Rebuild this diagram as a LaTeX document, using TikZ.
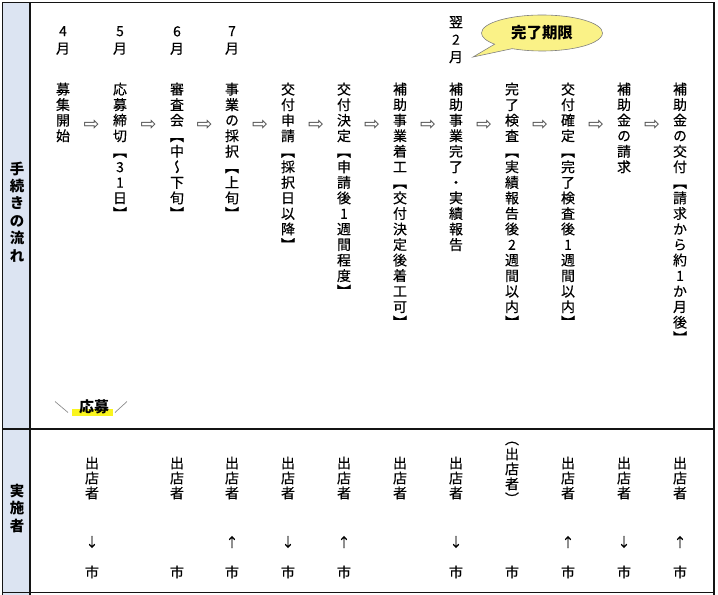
\documentclass[tikz,border=0pt]{standalone}
\usepackage{fontspec}
\usepackage{graphicx}
\setmainfont{Noto Sans CJK JP}
\newfontfamily\jp[FakeBold=0.4]{Noto Sans CJK JP}
\newfontfamily\vjp[RawFeature=+vert,FakeBold=0.4]{Noto Sans CJK JP}
\newfontfamily\dvfont{DejaVu Sans}
\usetikzlibrary{shapes.callouts,shapes.geometric}
\definecolor{sidefill}{RGB}{220,228,242}
\definecolor{bubfill}{RGB}{250,242,135}
\definecolor{hlyellow}{RGB}{250,245,30}
\definecolor{framecol}{RGB}{20,20,20}
\begin{document}
\begin{tikzpicture}[x=1bp,y=-1bp,
  frame/.style={draw=framecol,line width=1.3bp},
  vcol/.style={anchor=north,inner sep=0pt,align=center,
    font=\vjp\fontsize{14}{15.6}\selectfont,
    execute at begin node={\rule{0pt}{1em}}},
  month/.style={anchor=north,inner sep=0pt,align=center,
    font=\jp\fontsize{14}{17.5}\selectfont,
    execute at begin node={\rule{0pt}{1em}}},
  who/.style={anchor=north,inner sep=0pt,align=center,
    font=\vjp\fontsize{14}{15}\selectfont,
    execute at begin node={\rule{0pt}{1em}}},
  side/.style={anchor=north,inner sep=0pt,align=center,
    font=\bfseries\fontsize{14.5}{17.5}\selectfont,
    execute at begin node={\rule{0pt}{1em}}},
  flowarrow/.style={inner sep=0pt,font=\dvfont\fontsize{19}{19}\selectfont,text=black!70},
  dirarrow/.style={inner sep=0pt,font=\jp\fontsize{13}{13}\selectfont},
  city/.style={inner sep=0pt,font=\jp\fontsize{14}{14}\selectfont},
  slash/.style={draw=black!45,line width=0.7bp}
]
\useasboundingbox (0,0) rectangle (718,595);
% frame
\fill[sidefill] (2.5,2.5) rectangle (30,595);
\draw[frame] (2.5,595) -- (2.5,2.5) -- (714,2.5) -- (714,595);
\draw[frame] (30,2.5) -- (30,595);
\draw[frame] (2.5,429) -- (714,429);
\draw[frame] (2.5,592.5) -- (714,592.5);
% side labels
\node[side] (lflow) at (17,161.5) {手\\続\\き\\の\\流\\れ};
\node[side] (ldoer) at (17,484) {実\\施\\者};
% months
\node[month] (m4) at (63,26) {4\\月};
\node[month] (m5) at (120,26) {5\\月};
\node[month] (m6) at (177,26) {6\\月};
\node[month] (m7) at (232,26) {7\\月};
\node[month] (m2) at (456,16) {翌\\2\\月};
% steps
\node[vcol] (c1) at (63,82.5) {募\\集\\開\\始};
\node[vcol] (c2) at (120,82.5) {応\\募\\締\\切\\【\\3\\1\\日\\】};
\node[vcol] (c3) at (177,82.5) {審\\査\\会\\【\\中\\～\\下\\旬\\】};
\node[vcol] (c4) at (232,82.5) {事\\業\\の\\採\\択\\【\\上\\旬\\】};
\node[vcol] (c5) at (288,82.5) {交\\付\\申\\請\\【\\採\\択\\日\\以\\降\\】};
\node[vcol] (c6) at (344,82.5) {交\\付\\決\\定\\【\\申\\請\\後\\1\\週\\間\\程\\度\\】};
\node[vcol] (c7) at (400,82.5) {補\\助\\事\\業\\着\\工\\【\\交\\付\\決\\定\\後\\着\\工\\可\\】};
\node[vcol] (c8) at (456,82.5) {補\\助\\事\\業\\完\\了\\・\\実\\績\\報\\告};
\node[vcol] (c9) at (512,82.5) {完\\了\\検\\査\\【\\実\\績\\報\\告\\後\\2\\週\\間\\以\\内\\】};
\node[vcol] (c10) at (568,82.5) {交\\付\\確\\定\\【\\完\\了\\検\\査\\後\\1\\週\\間\\以\\内\\】};
\node[vcol] (c11) at (624,82.5) {補\\助\\金\\の\\請\\求};
\node[vcol] (c12) at (680,82.5) {補\\助\\金\\の\\交\\付\\【\\請\\求\\か\\ら\\約\\1\\か\\月\\後\\】};
% flow arrows
\foreach \a/\b [count=\i] in {63/120,120/177,177/232,232/288,288/344,344/400,400/456,456/512,512/568,568/624,624/680}
  \node[flowarrow] (fa\i) at ({(\a+\b)/2},125.5) {⇨};
% bubble
\coordinate (tip) at (473,57);
\node[ellipse callout,draw=black!50,line width=0.6bp,fill=bubfill,
  minimum width=121bp,minimum height=36bp,inner sep=0pt,
  callout absolute pointer=(tip),callout pointer arc=22,
  font=\bfseries\fontsize{15.5}{15.5}\selectfont] (bub) at (542,33) {完了期限};
% apply
\fill[hlyellow] (72,408.5) rectangle (113,415.5);
\node[inner sep=0pt,font=\bfseries\fontsize{15}{15}\selectfont] (apply) at (94,407) {応募};
\draw[slash] (55,401.5) -- (68,412.5);
\draw[slash] (115,412.5) -- (127,401.5);
% doers
\node[who] (w1) at (92,456.5) {出\\店\\者};
\node[who] (w3) at (177,456.5) {出\\店\\者};
\node[who] (w4) at (232,456.5) {出\\店\\者};
\node[who] (w5) at (288,456.5) {出\\店\\者};
\node[who] (w6) at (344,456.5) {出\\店\\者};
\node[who] (w7) at (400,456.5) {出\\店\\者};
\node[who] (w8) at (456,456.5) {出\\店\\者};
\node[who] (w9) at (512,441.5) {（\\出\\店\\者\\）};
\node[who] (w10) at (568,456.5) {出\\店\\者};
\node[who] (w11) at (624,456.5) {出\\店\\者};
\node[who] (w12) at (680,456.5) {出\\店\\者};
% direction arrows
\node[dirarrow] (d1) at (92,542) {↓};
\node[dirarrow] (d4) at (232,542) {↑};
\node[dirarrow] (d5) at (288,542) {↓};
\node[dirarrow] (d6) at (344,542) {↑};
\node[dirarrow] (d8) at (456,542) {↓};
\node[dirarrow] (d10) at (568,542) {↑};
\node[dirarrow] (d11) at (624,542) {↓};
\node[dirarrow] (d12) at (680,542) {↑};
% city
\foreach \x/\n in {92/1,177/3,232/4,288/5,344/6,456/8,512/9,568/10,624/11,680/12}
  \node[city] (s\n) at (\x,572) {市};
\end{tikzpicture}
\end{document}
